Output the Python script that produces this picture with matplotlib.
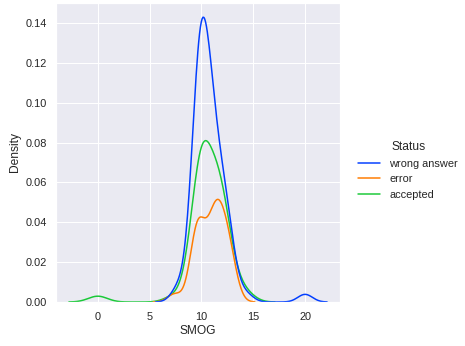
import matplotlib
matplotlib.use("Agg")
import matplotlib.pyplot as plt
import numpy as np
import pandas as pd
import seaborn as sns

# SMOG scores per submission status (value, number of submissions with it)
wrong_values = [7.7, 8.0, 9.2, 9.5, 9.8, 10.1, 10.4, 10.7, 11.0, 11.3, 11.6, 11.9,
                12.2, 12.5, 12.8, 13.1, 14.3, 20.0]
wrong_counts = [1, 1, 4, 7, 9, 8, 7, 6, 5, 4, 3, 3, 3, 3, 2, 1, 1, 1]

error_values = [7.4, 9.2, 9.5, 9.8, 10.1, 10.7, 11.0, 11.3, 11.6, 11.9, 12.2, 12.5,
                12.8, 13.1]
error_counts = [1, 1, 4, 4, 1, 1, 3, 3, 3, 2, 2, 2, 2, 1]

accepted_values = [0.0, 7.4, 9.2, 9.5, 9.8, 10.1, 10.4, 10.7, 11.0, 11.3, 11.6, 11.9,
                   12.2, 12.5, 13.7, 14.3]
accepted_counts = [1, 1, 1, 4, 7, 7, 4, 2, 1, 3, 4, 5, 4, 2, 1, 1]

statuses = ["wrong answer", "error", "accepted"]

frames = []
for status, vals, cnts in zip(statuses,
                              [wrong_values, error_values, accepted_values],
                              [wrong_counts, error_counts, accepted_counts]):
    frames.append(pd.DataFrame({"SMOG": np.repeat(vals, cnts), "Status": status}))
df = pd.concat(frames, ignore_index=True)

sns.set_theme(style="darkgrid")
plt.rcParams["font.family"] = ["Liberation Sans", "DejaVu Sans"]

fig = plt.figure(figsize=(465 / 72, 346 / 72), dpi=72)
ax = fig.add_axes([56 / 465, 44 / 346, 284 / 465, 299 / 346])

sns.kdeplot(data=df, x="SMOG", hue="Status", hue_order=statuses,
            palette="bright", ax=ax)
ax.set_xticks([0, 5, 10, 15, 20])
sns.move_legend(ax, "center left", bbox_to_anchor=(1.03, 0.44), frameon=False)

fig.savefig("out.png", dpi=72)
